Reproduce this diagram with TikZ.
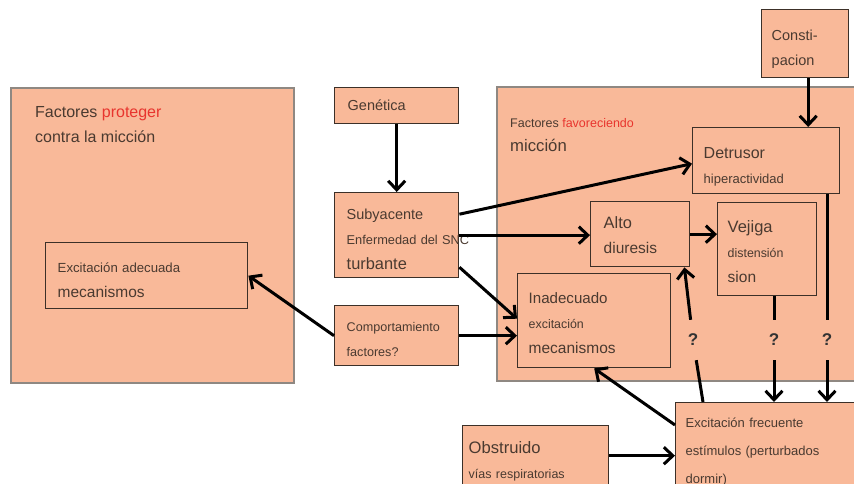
\documentclass[tikz,border=0pt]{standalone}
\usepackage{fontspec}
\setmainfont{Liberation Sans}
\usetikzlibrary{arrows.meta}
\definecolor{salm}{HTML}{F9B999}
\definecolor{txtc}{HTML}{4A3A30}
\definecolor{redt}{HTML}{E8352E}
\definecolor{edgc}{HTML}{3C3028}
\definecolor{outc}{HTML}{8F8882}
\newcommand{\setfs}[2][25]{\fontsize{#2}{#1}\selectfont}
\newcommand{\lift}[1]{\rule{0pt}{#1pt}}

\begin{document}
\begin{tikzpicture}[x=1pt,y=-1pt,
    area/.style={rectangle,draw=outc,fill=salm,line width=2pt,anchor=north west,inner sep=0pt},
    box/.style={rectangle,draw=edgc,fill=salm,line width=1.4pt,anchor=north west,align=left,text=txtc,inner ysep=0pt,font=\setfs{13}},
    title/.style={anchor=north west,inner sep=0pt,align=left,text=txtc},
    qm/.style={font=\bfseries\setfs{17},text=black!80,inner sep=0pt,minimum width=10pt,minimum height=40pt},
    lin/.style={line width=3pt},
    arr/.style={line width=3pt,-{Straight Barb[length=9pt,width=17pt]}}]
    \useasboundingbox (0,0) rectangle (854,484);
    \clip (0,0) rectangle (854,484);
    \draw

    (10,87)node[area,minimum width=283pt,minimum height=295pt](prot){}
    (35,106)node[title,font={\setfs[25.5]{16}}](protT){Factores \textcolor{redt}{proteger}\\contra la micción}
    (496,86)node[area,minimum width=370pt,minimum height=294pt](fav){}
    (510,118)node[title,font={\setfs[24]{12.5}}](favT){Factores \textcolor{redt}{favoreciendo}\\\setfs[24]{16.7}micción}

    (45,242)node[box,inner xsep=12pt,text width=178pt,minimum height=66pt](adec){\setfs{13.2}\lift{17.8}Excitación adecuada\\\setfs{15.5}mecanismos}
    (334,87)node[box,inner xsep=13pt,text width=98pt,minimum height=36pt](gen){\setfs{14.5}Genética}
    (334,192)node[box,inner xsep=12pt,text width=100pt,minimum height=85pt](sub){\setfs{14.5}\lift{19.6}Subyacente\\\setfs{12.8}\makebox[0pt][l]{Enfermedad del SNC}\\\setfs{16.4}turbante}
    (334,305)node[box,inner xsep=12pt,text width=100pt,minimum height=60pt](comp){\setfs{12.6}\lift{17.2}Comportamiento\\factores?}
    (761,9)node[box,inner xsep=10pt,text width=67pt,minimum height=68pt](cons){\setfs{14.5}\lift{22.6}Consti-\\pacion}
    (692,127)node[box,inner xsep=11pt,text width=125pt,minimum height=66pt](detr){\setfs{16}\lift{22.5}Detrusor\\\setfs{13}hiperactividad}
    (590,201)node[box,inner xsep=13pt,text width=73pt,minimum height=65pt](alto){\setfs{16.4}\lift{14}Alto\\\setfs{15.5}diuresis}
    (717,202)node[box,inner xsep=10pt,text width=79pt,minimum height=93pt](vej){\setfs{16.5}\lift{15.9}Vejiga\\\setfs{12.4}distensión\\\setfs{15.5}sion}
    (517,273)node[box,inner xsep=11pt,text width=131pt,minimum height=94pt](inad){\setfs{15.1}\lift{15}Inadecuado\\\setfs{12.4}excitación\\\setfs{15.5}mecanismos}
    (675,402)node[box,inner xsep=10pt,text width=180pt,minimum height=98pt,font={\setfs[28]{13}}](exc){Excitación frecuente\\estímulos (perturbados\\dormir)}
    (462,425)node[box,inner xsep=6pt,text width=134pt,minimum height=72pt](obs){\setfs{16.6}Obstruido\\\setfs{12.5}vías respiratorias}

    (693,340)node[qm](q1){?}
    (774,340)node[qm](q2){?}
    (827,340)node[qm](q3){?}
    ;

    \draw[arr](gen)--(sub);
    \draw[arr]([yshift=21pt]sub.east)--([yshift=-3pt]detr.west);
    \draw[arr](sub.east)--(sub.east-|alto.west);
    \draw[arr]([yshift=-32pt]sub.east)--([yshift=2pt]inad.west);
    \draw[arr](comp.east)--(comp.east-|inad.west);
    \draw[arr](comp.west)--(adec.east);
    \draw[arr](alto.east)--(alto.east-|vej.west);
    \draw[arr]([xshift=3pt]cons.south)--([xshift=3pt]cons.south|-detr.north);
    \draw[lin](detr.south-|q3)--(q3);
    \draw[arr](q3)--(q3|-exc.north);
    \draw[lin](vej.south-|q2)--(q2);
    \draw[arr](q2)--(q2|-exc.north);
    \draw[lin]([xshift=28pt]exc.north west)--(q1);
    \draw[arr](q1)--([xshift=-6pt]alto.south east);
    \draw[arr]([yshift=-23pt]exc.north west)--(inad.south);
    \draw[arr]([yshift=6pt]obs.east)--([yshift=6pt]obs.east-|exc.west);
\end{tikzpicture}
\end{document}
